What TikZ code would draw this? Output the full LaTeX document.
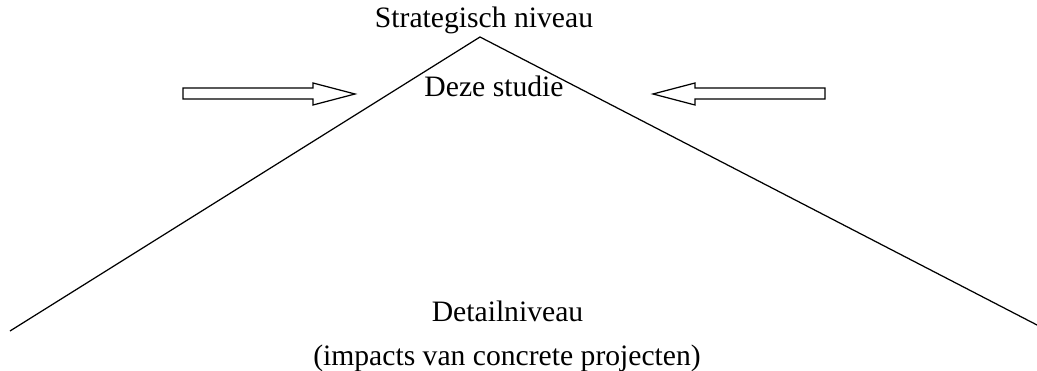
\documentclass[tikz,border=0pt]{standalone}
\usepackage{fontspec}
\setmainfont{Liberation Serif}
\tikzset{
  blockarrow/.style={draw=black, fill=white, line width=0.5pt, line join=miter},
  roof/.style={draw=black, line width=0.5pt},
  lbl/.style={anchor=base, inner sep=0pt, font=\fontsize{12}{14}\selectfont}
}
\begin{document}
\begin{tikzpicture}[x=0.405pt, y=-0.405pt]
        \useasboundingbox (0,0) rectangle (1037,371);

        \coordinate (top) at (480,37);
        \coordinate (leftend) at (10,331);
        \coordinate (rightend) at (1037,325);
        \draw[roof] (leftend) -- (top) -- (rightend);

        \node[lbl] (strat) at (484,28) {Strategisch niveau};
        \node[lbl] (studie) at (494,97) {Deze studie};
        \node[lbl] (detail) at (507.5,321) {Detailniveau};
        \node[lbl] (impacts) at (507,365) {(impacts van concrete projecten)};

        % arrows pointing at the study level
        \draw[blockarrow] (183,88) -- (313,88) -- (313,83) -- (355,94) -- (313,105) -- (313,99) -- (183,99) -- cycle;
        \draw[blockarrow] (825,88) -- (695,88) -- (695,83) -- (653,94) -- (695,105) -- (695,99) -- (825,99) -- cycle;

\end{tikzpicture}
\end{document}
